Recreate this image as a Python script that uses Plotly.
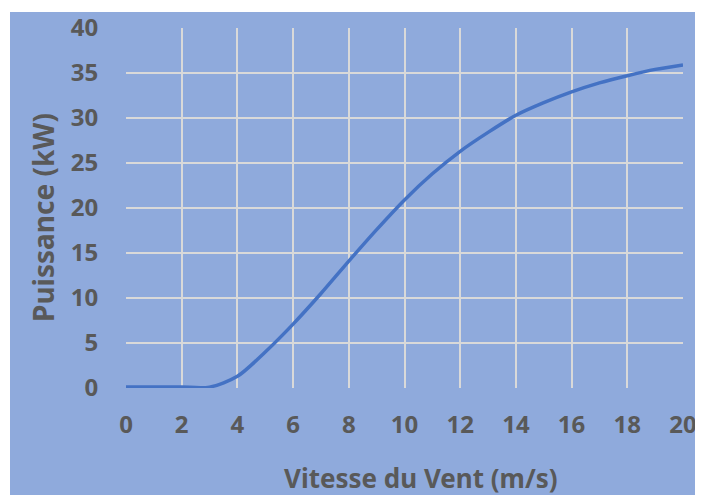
import plotly.graph_objects as go

wind_speed = [0, 1, 2, 3, 4, 5, 6, 7, 8, 9, 10, 11, 12, 13, 14, 15, 16, 17, 18, 19, 20]
power_kw = [0.1, 0.1, 0.1, 0.1, 1.3, 4.0, 7.1, 10.5, 14.1, 17.6, 20.9, 23.8, 26.3, 28.4, 30.3, 31.7, 32.9, 33.9, 34.7, 35.4, 35.9]
x_ticks = list(range(0, 21, 2))
y_ticks = list(range(0, 41, 5))
x_title = "Vitesse du Vent (m/s)"
y_title = "Puissance (kW)"

BLUE_BG = "#8FAADC"
TEXT = "#595959"
GRID = "#D9D9D9"
LINE = "#4472C4"
FONT = "Noto Sans"

# page body has an 8px margin, so figure coordinates are shifted by 8px
W, H = 695, 487
L, R, T, B = 118, 20, 20, 107
pw, ph = W - L - R, H - T - B

fig = go.Figure()
fig.add_trace(go.Scatter(x=wind_speed, y=power_kw, mode="lines",
                         line=dict(color=LINE, width=3.5, shape="spline", smoothing=0.8),
                         hoverinfo="x+y", showlegend=False))

fig.add_shape(type="rect", xref="paper", yref="paper",
              x0=(2 - L) / pw, x1=(W + 5 - L) / pw,
              y0=(H - B - (H + 5)) / ph, y1=(H - B - 4) / ph,
              fillcolor=BLUE_BG, line=dict(width=0), layer="below")

fig.add_annotation(text=f"<b>{x_title}</b>", xref="paper", yref="paper",
                   x=(413 - L) / pw, y=(H - B - 470) / ph, xanchor="center", yanchor="middle",
                   showarrow=False, font=dict(size=26, family=FONT, color=TEXT))
fig.add_annotation(text=f"<b>{y_title}</b>", xref="paper", yref="paper", textangle=-90,
                   x=(35 - L) / pw, y=(H - B - 210) / ph, xanchor="center", yanchor="middle",
                   showarrow=False, font=dict(size=28, family=FONT, color=TEXT))

fig.update_layout(
    width=W, height=H,
    margin=dict(l=L, r=R, t=T, b=B),
    paper_bgcolor="white",
    plot_bgcolor="rgba(0,0,0,0)",
    font=dict(family=FONT, color=TEXT),
)
fig.update_xaxes(range=[0, 20], tickvals=x_ticks, ticktext=[f"<b>{v}</b>" for v in x_ticks],
                 showgrid=True, gridcolor=GRID, gridwidth=1.5,
                 zeroline=False, showline=False, automargin=False,
                 tickfont=dict(size=24, family=FONT, color=TEXT),
                 ticks="outside", ticklen=15, tickcolor="rgba(0,0,0,0)")
fig.update_yaxes(range=[0, 40], tickvals=y_ticks, ticktext=[f"<b>{v}</b>" for v in y_ticks],
                 showgrid=True, gridcolor=GRID, gridwidth=1.5,
                 zeroline=False, showline=False, automargin=False,
                 tickfont=dict(size=24, family=FONT, color=TEXT),
                 ticks="outside", ticklen=22, tickcolor="rgba(0,0,0,0)")
fig.write_html("out.html")
